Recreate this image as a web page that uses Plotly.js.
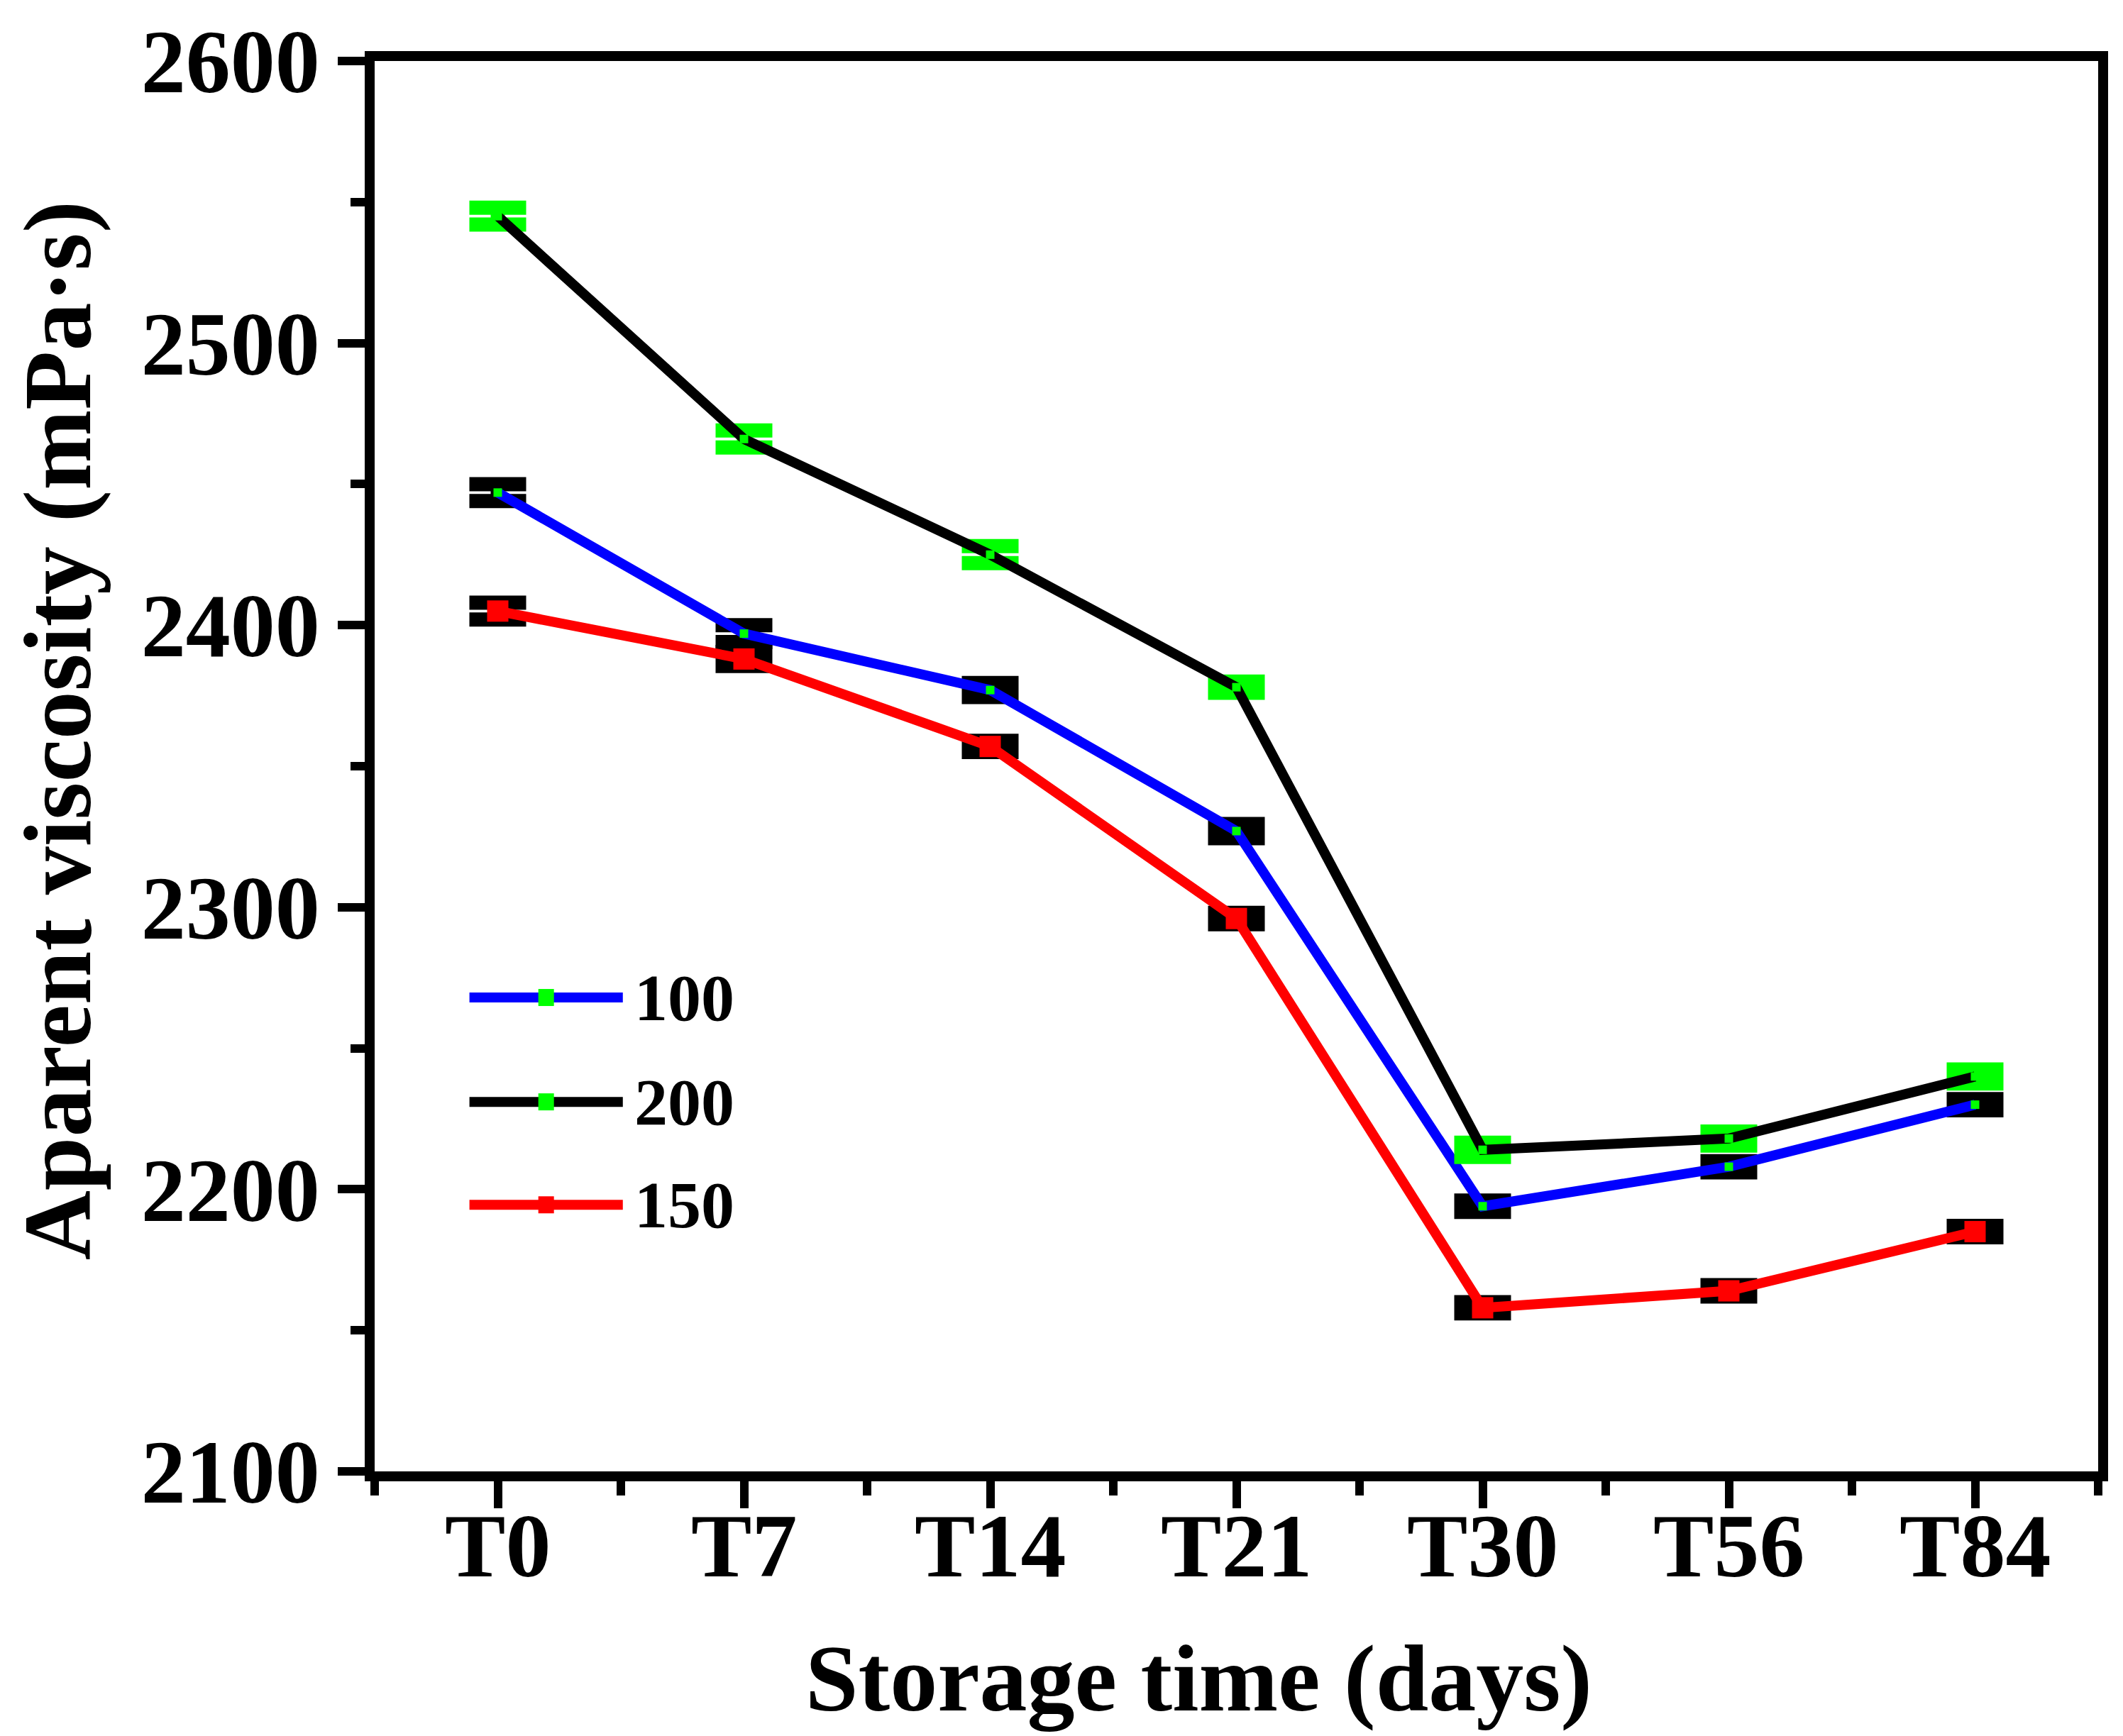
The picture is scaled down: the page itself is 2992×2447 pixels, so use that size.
<!DOCTYPE html>
<html>
<head>
<meta charset="utf-8">
<script src="https://cdn.plot.ly/plotly-3.0.1.min.js"></script>
<style>
  html, body { margin: 0; padding: 0; background: #fff; }
  #chart { width: 2992px; height: 2447px; }
</style>
</head>
<body>
<div id="chart"></div>
<script>
// storage time categories
let days = ['T0', 'T7', 'T14', 'T21', 'T30', 'T56', 'T84'];

// apparent viscosity (mPa·s)
let visc100 = [2447, 2397, 2377, 2327, 2194, 2208, 2230];
let visc200 = [2545, 2466, 2425, 2378, 2214, 2218, 2240];
let visc150 = [2405, 2388, 2357, 2296, 2158, 2164, 2185];

// standard deviations (error bars)
let err100 = [3, 3, 2.5, 2.5, 2, 2, 2];
let err200 = [3, 3, 3, 2, 2.5, 2.5, 2.5];
let err150 = [3, 2.5, 2, 2, 2, 2, 2];

let seriesNames = ['100', '200', '150'];
let lineColors = ['#0000ff', '#000000', '#ff0000'];
let markerColors = ['#00ff00', '#00ff00', '#ff0000'];
let errColors = ['#000000', '#00ff00', '#000000'];

const FONT = '"Liberation Serif", "Times New Roman", serif';
let xIdx = days.map((d, i) => i);

function makeTrace(y, err, k) {
  let big = k === 2;
  return {
    x: xIdx,
    y: y,
    name: seriesNames[k],
    type: 'scatter',
    mode: 'lines+markers',
    line: { color: lineColors[k], width: 14 },
    marker: { symbol: 'square', size: big ? 30 : 12, color: markerColors[k] },
    error_y: {
      type: 'data', array: err, visible: true,
      color: errColors[k], thickness: 20, width: 40
    },
    showlegend: false,
    cliponaxis: false
  };
}

let traces = [
  makeTrace(visc100, err100, 0),
  makeTrace(visc200, err200, 1),
  makeTrace(visc150, err150, 2)
];

// legend drawn by hand so the sample lines are as long as in the original
let legY = [0.336, 0.262, 0.189];
let shapes = [];
let annotations = [];
seriesNames.forEach((nm, k) => {
  shapes.push({
    type: 'line', xref: 'paper', yref: 'paper',
    x0: 0.055, x1: 0.144, y0: legY[k], y1: legY[k],
    line: { color: lineColors[k], width: 14 }
  });
  shapes.push({
    type: 'rect', xref: 'paper', yref: 'paper',
    xsizemode: 'pixel', ysizemode: 'pixel',
    xanchor: 0.0995, yanchor: legY[k],
    x0: -11, x1: 11, y0: -12, y1: 12,
    fillcolor: markerColors[k], line: { width: 0 }
  });
  annotations.push({
    xref: 'paper', yref: 'paper', x: 0.150, y: legY[k],
    xanchor: 'left', yanchor: 'middle', showarrow: false,
    text: '<b>' + nm + '</b>',
    font: { family: FONT, size: 94, color: '#000' }
  });
});

// x tick labels sit closer to the ticks than plotly allows, so place them as annotations
days.forEach((d, i) => {
  annotations.push({
    xref: 'x', yref: 'paper', x: i, y: -0.016,
    xanchor: 'center', yanchor: 'top', showarrow: false,
    text: '<b>' + d + '</b>',
    font: { family: FONT, size: 128, color: '#000' }
  });
});

// axis titles as annotations (they sit a bit off-centre in the original)
annotations.push({
  xref: 'paper', yref: 'paper', x: 0.478, y: -0.147,
  xanchor: 'center', yanchor: 'middle', showarrow: false,
  text: '<b>Storage time (days)</b>',
  font: { family: FONT, size: 134, color: '#000' }
});
annotations.push({
  xref: 'paper', yref: 'paper', x: -0.184, y: 0.525,
  xanchor: 'center', yanchor: 'middle', showarrow: false, textangle: -90,
  text: '<b>Aparent viscosity (mPa·s)</b>',
  font: { family: FONT, size: 136, color: '#000' }
});

let layout = {
  width: 2992,
  height: 2447,
  margin: { l: 528, r: 35, t: 86, b: 373 },
  paper_bgcolor: '#fff',
  plot_bgcolor: '#fff',
  font: { family: FONT, color: '#000' },
  showlegend: false,
  xaxis: {
    range: [-0.5, 6.5],
    tickmode: 'array',
    tickvals: xIdx,
    showticklabels: false,
    ticks: 'outside', ticklen: 38, tickwidth: 12, tickcolor: '#000',
    minor: { tickmode: 'linear', tick0: -0.5, dtick: 1, ticks: 'outside', ticklen: 20, tickwidth: 12, tickcolor: '#000' },
    showline: true, linewidth: 14, linecolor: '#000', mirror: true,
    showgrid: false, zeroline: false,
    automargin: false
  },
  yaxis: {
    range: [2100, 2600],
    tickmode: 'linear', tick0: 2100, dtick: 100,
    tickprefix: '<b>', ticksuffix: '</b>',
    tickfont: { family: FONT, size: 126, color: '#000' },
    ticks: 'outside', ticklen: 38, tickwidth: 12, tickcolor: '#000',
    minor: { tickmode: 'linear', tick0: 2150, dtick: 100, ticks: 'outside', ticklen: 20, tickwidth: 12, tickcolor: '#000' },
    showline: true, linewidth: 14, linecolor: '#000', mirror: true,
    showgrid: false, zeroline: false,
    automargin: false
  },
  shapes: shapes,
  annotations: annotations
};

Plotly.newPlot('chart', traces, layout, { displayModeBar: false, staticPlot: true });
</script>
</body>
</html>
